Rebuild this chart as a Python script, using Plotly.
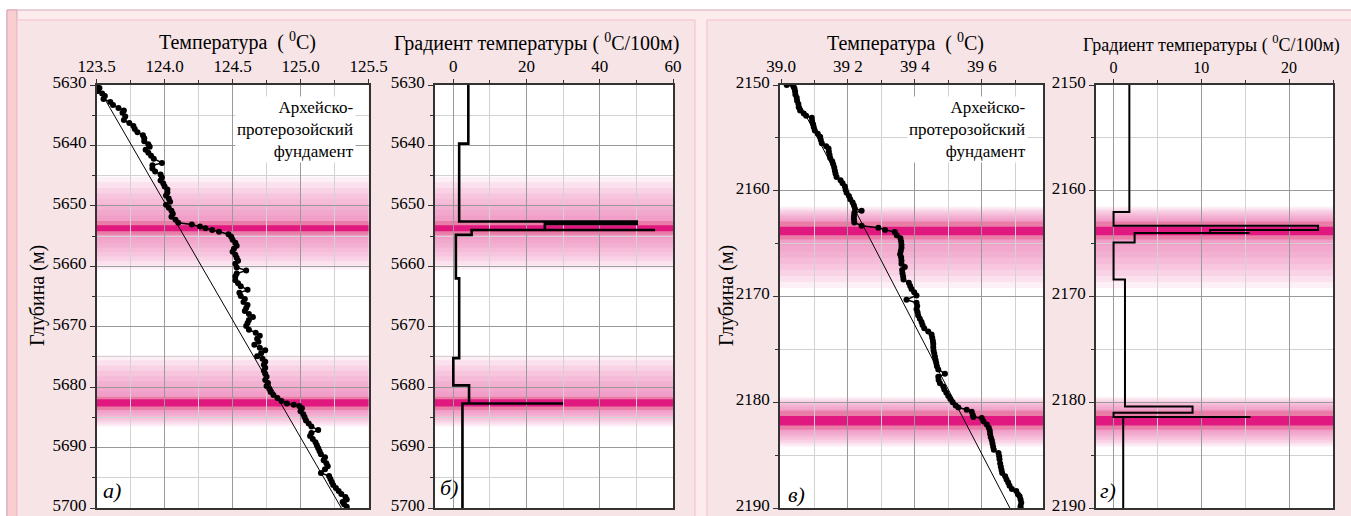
import plotly.graph_objects as go

W, H = 1351, 516

# ---------------- data ----------------
# Panel a: temperature profile (depth m, temperature C)
depth_a = [5630.0, 5630.5, 5631.0, 5631.4, 5631.8, 5632.3, 5632.8, 5633.3, 5633.8, 5634.2,
           5634.6, 5635.2, 5635.8, 5636.3, 5636.8, 5637.3, 5637.8, 5638.3, 5638.8, 5639.3,
           5639.8, 5640.2, 5640.7, 5641.2, 5641.7, 5642.2, 5642.9, 5643.3, 5643.8, 5644.3,
           5644.8, 5645.3, 5645.8, 5646.3, 5646.8, 5647.3, 5647.8, 5648.3, 5648.8, 5649.3,
           5649.8, 5650.3, 5650.8, 5651.3, 5651.8, 5652.3, 5652.8, 5653.1, 5653.4, 5653.7,
           5654.0, 5654.3, 5654.7, 5655.1, 5655.6, 5656.1, 5656.6, 5657.1, 5657.6, 5658.1,
           5658.6, 5659.1, 5659.6, 5660.2, 5660.7, 5661.2, 5661.7, 5662.3, 5662.8, 5663.3,
           5663.9, 5664.4, 5664.9, 5665.4, 5665.9, 5666.4, 5666.9, 5667.4, 5667.9, 5668.4,
           5668.9, 5669.4, 5669.9, 5670.5, 5671.0, 5671.5, 5672.0, 5672.5, 5673.0, 5673.5,
           5673.9, 5674.4, 5674.9, 5675.3, 5675.8, 5676.3, 5676.8, 5677.3, 5677.8, 5678.3,
           5678.8, 5679.3, 5679.8, 5680.3, 5680.8, 5681.3, 5681.8, 5682.3, 5682.7, 5682.9,
           5683.1, 5683.5, 5684.0, 5684.5, 5685.0, 5685.5, 5686.0, 5686.5, 5687.1, 5687.6,
           5688.1, 5688.6, 5689.1, 5689.6, 5690.1, 5690.6, 5691.1, 5691.6, 5692.1, 5692.6,
           5693.1, 5693.6, 5694.2, 5694.7, 5695.2, 5695.7, 5696.2, 5696.7, 5697.2, 5697.7,
           5698.2, 5698.6, 5699.0, 5699.4, 5699.8]
temp_a = [123.50, 123.52, 123.51, 123.54, 123.56, 123.55, 123.60, 123.62, 123.66, 123.70,
          123.69, 123.71, 123.70, 123.74, 123.77, 123.78, 123.80, 123.84, 123.85, 123.85,
          123.88, 123.89, 123.86, 123.88, 123.90, 123.92, 123.98, 123.91, 123.91, 123.93,
          123.97, 123.98, 123.97, 123.99, 124.00, 124.02, 124.02, 124.01, 124.03, 124.04,
          124.01, 124.03, 124.05, 124.06, 124.05, 124.08, 124.10, 124.20, 124.26, 124.30,
          124.35, 124.40, 124.47, 124.49, 124.50, 124.52, 124.53, 124.51, 124.50, 124.52,
          124.53, 124.54, 124.52, 124.53, 124.60, 124.53, 124.52, 124.52, 124.54, 124.56,
          124.61, 124.55, 124.56, 124.59, 124.58, 124.61, 124.60, 124.59, 124.62, 124.65,
          124.62, 124.61, 124.60, 124.62, 124.67, 124.70, 124.68, 124.69, 124.66, 124.70,
          124.74, 124.71, 124.68, 124.72, 124.74, 124.73, 124.74, 124.73, 124.74, 124.75,
          124.74, 124.76, 124.75, 124.77, 124.78, 124.80, 124.83, 124.86, 124.90, 124.95,
          124.99, 125.01, 125.00, 125.02, 125.03, 125.04, 125.06, 125.08, 125.13, 125.08,
          125.07, 125.09, 125.11, 125.12, 125.13, 125.14, 125.15, 125.18, 125.17, 125.19,
          125.20, 125.18, 125.15, 125.21, 125.22, 125.23, 125.24, 125.26, 125.28, 125.30,
          125.33, 125.34, 125.31, 125.32, 125.34]
trend_a_depth = [5630.0, 5700.0]
trend_a_temp = [123.50, 125.30]

# Panel b: temperature gradient (C/100m) step curve
grad_b_depth = [5630.0, 5639.7, 5639.7, 5652.6, 5652.6, 5653.0, 5653.0, 5654.0, 5654.0, 5654.0,
                5654.8, 5654.8, 5662.0, 5662.0, 5675.2, 5675.2, 5679.7, 5679.7, 5682.7, 5682.7,
                5682.7, 5700.0]
grad_b = [4.1, 4.1, 1.6, 1.6, 50.1, 50.1, 25.0, 25.0, 55.1, 5.0,
          5.0, 0.7, 0.7, 1.6, 1.6, 0.0, 0.0, 4.3, 4.3, 30.0,
          2.5, 2.5]

# Panel c: temperature profile
depth_c = [2150.0, 2150.1, 2150.3, 2150.6, 2150.9, 2151.2, 2151.5, 2151.8, 2152.1, 2152.4,
           2152.7, 2152.9, 2153.1, 2153.4, 2153.7, 2154.0, 2154.3, 2154.6, 2154.9, 2155.2,
           2155.5, 2155.8, 2156.0, 2156.3, 2156.6, 2156.9, 2157.2, 2157.5, 2157.8, 2158.1,
           2158.4, 2158.7, 2159.0, 2159.3, 2159.6, 2159.9, 2160.2, 2160.5, 2160.8, 2161.1,
           2161.4, 2161.7, 2161.9, 2162.1, 2162.4, 2162.7, 2163.0, 2163.3, 2163.5, 2163.7,
           2163.9, 2164.2, 2164.5, 2164.8, 2165.1, 2165.4, 2165.7, 2166.0, 2166.3, 2166.6,
           2166.9, 2167.2, 2167.5, 2167.8, 2168.1, 2168.4, 2168.7, 2169.0, 2169.3, 2169.6,
           2169.9, 2170.3, 2170.6, 2170.9, 2171.2, 2171.5, 2171.8, 2172.1, 2172.4, 2172.7,
           2173.0, 2173.3, 2173.6, 2173.9, 2174.2, 2174.5, 2174.8, 2175.1, 2175.4, 2175.7,
           2176.0, 2176.3, 2176.6, 2176.9, 2177.3, 2177.6, 2177.9, 2178.2, 2178.5, 2178.8,
           2179.1, 2179.4, 2179.7, 2180.0, 2180.3, 2180.5, 2180.7, 2180.9, 2181.2, 2181.4,
           2181.5, 2181.8, 2182.1, 2182.4, 2182.7, 2183.0, 2183.3, 2183.6, 2183.9, 2184.2,
           2184.5, 2184.8, 2185.1, 2185.4, 2185.8, 2186.1, 2186.4, 2186.7, 2187.0, 2187.3,
           2187.6, 2187.9, 2188.2, 2188.4, 2188.7, 2188.9, 2189.2, 2189.5, 2189.8, 2190.0]
temp_c = [39.017, 39.037, 39.040, 39.042, 39.043, 39.047, 39.048, 39.052, 39.053, 39.057,
          39.068, 39.075, 39.092, 39.093, 39.096, 39.098, 39.101, 39.110, 39.117, 39.119,
          39.122, 39.135, 39.142, 39.143, 39.145, 39.147, 39.153, 39.156, 39.159, 39.161,
          39.163, 39.166, 39.178, 39.184, 39.191, 39.193, 39.196, 39.203, 39.207, 39.214,
          39.218, 39.221, 39.241, 39.219, 39.218, 39.218, 39.219, 39.241, 39.291, 39.311,
          39.340, 39.346, 39.357, 39.359, 39.360, 39.360, 39.358, 39.356, 39.359, 39.360,
          39.360, 39.370, 39.362, 39.363, 39.365, 39.366, 39.382, 39.386, 39.390, 39.398,
          39.405, 39.375, 39.405, 39.407, 39.405, 39.408, 39.410, 39.415, 39.420, 39.423,
          39.428, 39.440, 39.450, 39.452, 39.454, 39.455, 39.455, 39.456, 39.458, 39.460,
          39.462, 39.464, 39.466, 39.470, 39.490, 39.470, 39.471, 39.475, 39.485, 39.488,
          39.494, 39.500, 39.506, 39.513, 39.522, 39.530, 39.555, 39.570, 39.573, 39.575,
          39.600, 39.605, 39.615, 39.621, 39.624, 39.625, 39.627, 39.630, 39.632, 39.634,
          39.636, 39.650, 39.652, 39.653, 39.655, 39.657, 39.659, 39.661, 39.670, 39.674,
          39.679, 39.683, 39.690, 39.703, 39.708, 39.713, 39.716, 39.718, 39.716, 39.716]
trend_c_depth = [2150.0, 2190.0]
trend_c_temp = [39.027, 39.684]

# Panel d: gradient step curve
grad_d_depth = [2150.0, 2162.0, 2162.0, 2163.3, 2163.3, 2163.7, 2163.7, 2164.0, 2164.0, 2164.0,
                2164.9, 2164.9, 2168.4, 2168.4, 2180.4, 2180.4, 2181.0, 2181.0, 2181.4, 2181.4,
                2181.4, 2190.0]
grad_d = [1.8, 1.8, 0.0, 0.0, 23.3, 23.3, 11.0, 11.0, 15.5, 2.4,
          2.4, 0.0, 0.0, 1.3, 1.3, 9.0, 9.0, 0.0, 0.0, 15.6,
          1.1, 1.1]

# highlighted zones: fade top, ring top, core top, core bottom, ring bottom, fade bottom
zones_top = [(5645.2, 5652.5, 5653.2, 5654.2, 5654.8, 5660.5),
             (5674.7, 5681.6, 5682.0, 5683.2, 5683.8, 5686.5)]
zones_bottom = [(2161.5, 2162.9, 2163.4, 2164.2, 2164.6, 2169.2),
                (2179.5, 2180.8, 2181.3, 2182.2, 2182.6, 2184.2)]

x_ticks_c = [39.0, 39.2, 39.4, 39.6]
x_ticktext_c = ["39.0", "39 2", "39 4", "39 6"]

# ---------------- figure ----------------
FONT = "'Liberation Serif', 'DejaVu Serif', 'Times New Roman', serif"
fig = go.Figure()

def px_x(p):
    return p / W

def px_y(p):
    return 1 - p / H

# background frames
shapes = []
def prect(x0, y0, x1, y1, fill, line=None, lw=0):
    shapes.append(dict(type="rect", xref="paper", yref="paper",
                       x0=px_x(x0), x1=px_x(x1), y0=px_y(y1), y1=px_y(y0),
                       fillcolor=fill, line=dict(color=line or fill, width=lw), layer="below"))

prect(7, 10, 1352, 517, "rgb(252,236,236)", "rgb(212,166,191)", 1)
prect(7, 10, 17, 517, "rgb(249,206,206)", "rgb(212,166,191)", 1)
prect(17, 20, 695, 517, "rgb(246,228,230)", "rgb(245,190,208)", 1)
prect(707, 20, 1352, 517, "rgb(246,228,230)", "rgb(245,190,208)", 1)

def refs(n):
    return ("x domain" if n == 1 else f"x{n} domain"), ("y" if n == 1 else f"y{n}")

# white plotting areas
for n in (1, 2, 3, 4):
    xr, _ = refs(n)
    yr = "y domain" if n == 1 else f"y{n} domain"
    shapes.append(dict(type="rect", xref=xr, yref=yr, x0=0, x1=1, y0=0, y1=1,
                       fillcolor="white", line=dict(width=0), layer="below"))

def add_zone(n, z):
    ft, rt, ct, cb, rb, fb = z
    xr, yr = refs(n)
    N = 8
    for k in range(1, N + 1):
        shapes.append(dict(type="rect", xref=xr, yref=yr, x0=0, x1=1,
                           y0=rt - (rt - ft) * k / N, y1=rb + (fb - rb) * k / N,
                           fillcolor="rgba(228,80,150,0.09)", line=dict(width=0), layer="below"))
    shapes.append(dict(type="rect", xref=xr, yref=yr, x0=0, x1=1, y0=rt, y1=rb,
                       fillcolor="rgb(234,125,168)", line=dict(width=0), layer="below"))
    shapes.append(dict(type="rect", xref=xr, yref=yr, x0=0, x1=1, y0=ct, y1=cb,
                       fillcolor="rgb(224,24,128)", line=dict(width=0), layer="below"))

for z in zones_top:
    add_zone(1, z)
    add_zone(2, z)
for z in zones_bottom:
    add_zone(3, z)
    add_zone(4, z)

# traces
fig.add_trace(go.Scatter(x=trend_a_temp, y=trend_a_depth, mode="lines",
                         line=dict(color="black", width=1), xaxis="x", yaxis="y", showlegend=False))
fig.add_trace(go.Scatter(x=temp_a, y=depth_a, mode="lines+markers",
                         line=dict(color="black", width=1.5), marker=dict(color="black", size=6),
                         xaxis="x", yaxis="y", showlegend=False))
fig.add_trace(go.Scatter(x=grad_b, y=grad_b_depth, mode="lines",
                         line=dict(color="black", width=2.6), xaxis="x2", yaxis="y2", showlegend=False))
fig.add_trace(go.Scatter(x=trend_c_temp, y=trend_c_depth, mode="lines",
                         line=dict(color="black", width=1), xaxis="x3", yaxis="y3", showlegend=False))
fig.add_trace(go.Scatter(x=temp_c, y=depth_c, mode="lines+markers",
                         line=dict(color="black", width=1.5), marker=dict(color="black", size=6),
                         xaxis="x3", yaxis="y3", showlegend=False))
fig.add_trace(go.Scatter(x=grad_d, y=grad_d_depth, mode="lines",
                         line=dict(color="black", width=2), xaxis="x4", yaxis="y4", showlegend=False))

ydom = [px_y(508), px_y(85)]

def xax(x0, x1, rng, dtick, mdtick, tick0, anchor, fs=17, **kw):
    d = dict(domain=[px_x(x0), px_x(x1)], range=rng, side="top", anchor=anchor,
             automargin=False,
             showline=True, mirror=True, linecolor="#333", linewidth=1.5,
             ticks="outside", ticklen=4, tickcolor="#333", ticklabeloverflow="allow",
             tickfont=dict(family=FONT, size=fs, color="black"),
             showgrid=True, gridcolor="#9a9a9a", gridwidth=1, dtick=dtick, tick0=tick0,
             zeroline=False, fixedrange=True,
             minor=dict(dtick=mdtick, tick0=tick0, showgrid=True, gridcolor="#d2d2d2",
                        ticks="outside", ticklen=3, tickcolor="#333"))
    d.update(kw)
    return d

def yax(rng, anchor):
    return dict(domain=ydom, range=rng, anchor=anchor, automargin=False,
                showline=True, mirror=True, linecolor="#333", linewidth=1.5,
                ticks="outside", ticklen=5, tickcolor="#333", ticklabeloverflow="allow",
                ticklabelshift=3,
                tickfont=dict(family=FONT, size=17, color="black"),
                showgrid=True, gridcolor="#9a9a9a", gridwidth=1, dtick=10,
                zeroline=False, fixedrange=True,
                minor=dict(dtick=5, showgrid=True, gridcolor="#d2d2d2",
                           ticks="outside", ticklen=3, tickcolor="#333"))

annotations = []
def ann(text, x, y, size=20, **kw):
    d = dict(text=text, x=px_x(x), y=px_y(y), xref="paper", yref="paper", showarrow=False,
             font=dict(family=FONT, size=size, color="black"), xanchor="center", yanchor="middle")
    d.update(kw)
    annotations.append(d)

ann("Температура  ( <sup>0</sup>C)", 238, 41)
ann("Градиент температуры ( <sup>0</sup>C/100м)", 536, 42)
ann("Температура  ( <sup>0</sup>C)", 905, 42)
ann("Градиент температуры ( <sup>0</sup>C/100м)", 1211, 44, size=18)
ann("Глубина (м)", 37, 296, textangle=-90)
ann("Глубина (м)", 726, 296, textangle=-90)
for xr, yt in [(356, 96), (1028, 96)]:
    ann("Архейско-<br>протерозойский<br>фундамент", xr, yt, size=17, xanchor="right",
        yanchor="top", align="right", bgcolor="white", borderpad=1)
ann("<i>а)</i>", 112, 490, size=22)
ann("<i>б)</i>", 449, 487, size=22)
ann("<i>в)</i>", 796, 494, size=22)
ann("<i>г)</i>", 1108, 490, size=22)

fig.update_layout(
    template="none",
    width=W, height=H, autosize=False,
    margin=dict(l=0, r=0, t=0, b=0, pad=0),
    paper_bgcolor="white", plot_bgcolor="white",
    font=dict(family=FONT, color="black"),
    showlegend=False,
    shapes=shapes, annotations=annotations,
    xaxis=xax(96.7, 368.5, [123.5, 125.5], 0.5, 0.25, 123.5, "y", tickformat=".1f"),
    yaxis=yax([5700, 5630], "x"),
    xaxis2=xax(435, 673, [-5, 60], 20, 10, 0, "y2"),
    yaxis2=yax([5700, 5630], "x2"),
    xaxis3=xax(780, 1043, [38.997, 39.783], 0.2, 0.1, 39.0, "y3",
               tickmode="array", tickvals=x_ticks_c, ticktext=x_ticktext_c),
    yaxis3=yax([2190, 2150], "x3"),
    xaxis4=xax(1096, 1333, [-2, 25], 10, 5, 0, "y4", fs=16),
    yaxis4=yax([2190, 2150], "x4"),
)
fig.layout.xaxis3.minor = dict(tickvals=[39.1, 39.3, 39.5, 39.7], showgrid=True, gridcolor="#d2d2d2",
                               ticks="outside", ticklen=3, tickcolor="#333")

fig.write_html("out.html")
